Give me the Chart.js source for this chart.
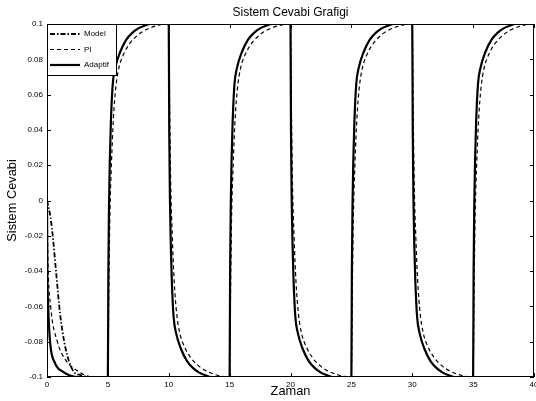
<!DOCTYPE html>
<html>
<head>
<meta charset="utf-8">
<script src="https://cdn.jsdelivr.net/npm/chart.js@4.4.0/dist/chart.umd.min.js"></script>
<style>
html, body { margin: 0; padding: 0; background: #fff; }
#wrap { width: 536px; height: 401px; }
</style>
</head>
<body>
<div id="wrap"><canvas id="c" width="536" height="401"></canvas></div>
<script>
// values
const xTicks = [0, 5, 10, 15, 20, 25, 30, 35, 40];
const yTicks = [-0.1, -0.08, -0.06, -0.04, -0.02, 0, 0.02, 0.04, 0.06, 0.08, 0.1];

// first segment (t = 0..5), each curve decays from 0 to -0.1
const modelT = [0, 0.3, 0.5, 0.74, 1.07, 1.5, 2.1, 2.8, 3.5, 5];
const modelY = [0, -0.01, -0.022, -0.04, -0.064, -0.083, -0.096, -0.099, -0.1, -0.1];
const piStartT = [0, 0.08, 0.3, 0.85, 1.5, 2.6, 3.8, 5];
const piStartY = [0, -0.035, -0.06, -0.08, -0.09, -0.097, -0.1, -0.1];
const adaptifStartT = [0, 0.03, 0.1, 0.25, 0.65, 1.3, 2.5, 5];
const adaptifStartY = [0, -0.04, -0.06, -0.08, -0.092, -0.097, -0.1, -0.1];

// square wave edges (+1 rise, -1 fall) and the step response read at one edge
const edgeTimes = [5, 10, 15, 20, 25, 30, 35];
const edgeDir = [1, -1, 1, -1, 1, -1, 1];
const adaptifOffsets = [0, 0.04, 0.1, 0.16, 0.25, 0.4, 0.6, 1.0, 1.5, 2.0, 2.5, 3.0, 3.5];
const adaptifStep = [-0.1, -0.04, 0.0, 0.023, 0.045, 0.066, 0.075, 0.084, 0.091, 0.095, 0.0975, 0.099, 0.1];
const piOffsets = [0, 0.08, 0.16, 0.3, 0.45, 0.65, 0.9, 1.3, 1.8, 2.5, 3.2, 4.0, 4.8];
const piStep = [-0.1, -0.05, -0.01, 0.022, 0.046, 0.064, 0.075, 0.083, 0.089, 0.094, 0.097, 0.099, 0.1];
const endT = 40;

function buildSeries(startT, startY, offsets, step) {
    let pts = startT.map((t, i) => ({ x: t, y: startY[i] }));
    pts.pop();
    edgeTimes.forEach((e, k) => {
        let s = edgeDir[k];
        offsets.forEach((o, i) => pts.push({ x: e + o, y: s * step[i] }));
    });
    pts.push({ x: endT, y: edgeDir[edgeDir.length - 1] * 0.1 });
    return pts;
}

const modelData = modelT.map((t, i) => ({ x: t, y: modelY[i] }));
const piData = buildSeries(piStartT, piStartY, piOffsets, piStep);
const adaptifData = buildSeries(adaptifStartT, adaptifStartY, adaptifOffsets, adaptifStep);

const legendItems = [
    { label: 'Model', dash: [5, 2, 1.5, 2], width: 1.8 },
    { label: 'PI', dash: [4, 3], width: 1.2 },
    { label: 'Adaptif', dash: [], width: 2.2 }
];

const fontName = '"Liberation Sans", Arial, Helvetica, sans-serif';

// matlab style box, inward ticks, title and legend
const matlabPlugin = {
    id: 'matlabBox',
    afterDatasetsDraw(chart) {
        const ctx = chart.ctx;
        const a = chart.chartArea;
        const xs = chart.scales.x, ys = chart.scales.y;
        ctx.save();
        ctx.strokeStyle = '#000';
        ctx.lineWidth = 1;
        ctx.setLineDash([]);
        ctx.strokeRect(a.left + 0.5, a.top + 0.5, a.right - a.left - 1, a.bottom - a.top - 1);
        const tl = 4;
        ctx.beginPath();
        xTicks.forEach(v => {
            let px = Math.round(xs.getPixelForValue(v)) + 0.5;
            ctx.moveTo(px, a.bottom); ctx.lineTo(px, a.bottom - tl);
            ctx.moveTo(px, a.top); ctx.lineTo(px, a.top + tl);
        });
        yTicks.forEach(v => {
            let py = Math.round(ys.getPixelForValue(v)) + 0.5;
            ctx.moveTo(a.left, py); ctx.lineTo(a.left + tl, py);
            ctx.moveTo(a.right, py); ctx.lineTo(a.right - tl, py);
        });
        ctx.stroke();

        // title
        ctx.fillStyle = '#000';
        ctx.font = '12px ' + fontName;
        ctx.textAlign = 'center';
        ctx.textBaseline = 'middle';
        ctx.fillText('Sistem Cevabi Grafigi', (a.left + a.right) / 2, 13);

        // legend
        const bx = a.left, by = a.top, bw = 69, bh = 51;
        ctx.fillStyle = '#fff';
        ctx.fillRect(bx, by, bw, bh);
        ctx.strokeRect(bx + 0.5, by + 0.5, bw, bh);
        ctx.font = '8px ' + fontName;
        ctx.textAlign = 'left';
        legendItems.forEach((it, i) => {
            let y = by + 10 + i * 15.5;
            ctx.beginPath();
            ctx.lineWidth = it.width;
            ctx.setLineDash(it.dash);
            ctx.moveTo(bx + 3, y); ctx.lineTo(bx + 33, y);
            ctx.stroke();
            ctx.fillStyle = '#000';
            ctx.fillText(it.label, bx + 37, y);
        });
        ctx.restore();
    }
};

function lineSet(label, data, dash, width, order) {
    return {
        label: label,
        data: data,
        borderColor: '#000',
        borderWidth: width,
        borderDash: dash,
        pointRadius: 0,
        fill: false,
        tension: 0,
        cubicInterpolationMode: 'monotone',
        order: order
    };
}

const chart = new Chart(document.getElementById('c'), {
    type: 'line',
    data: {
        datasets: [
            lineSet('Model', modelData, legendItems[0].dash, legendItems[0].width, 2),
            lineSet('PI', piData, legendItems[1].dash, legendItems[1].width, 1),
            lineSet('Adaptif', adaptifData, legendItems[2].dash, legendItems[2].width, 0)
        ]
    },
    options: {
        responsive: false,
        devicePixelRatio: 1,
        animation: false,
        layout: { padding: { left: 0, right: 2, top: 24, bottom: 0 } },
        plugins: {
            legend: { display: false },
            title: { display: false },
            tooltip: { enabled: false }
        },
        scales: {
            x: {
                type: 'linear',
                min: 0,
                max: 40,
                afterBuildTicks: s => { s.ticks = xTicks.map(v => ({ value: v })); },
                ticks: { color: '#000', font: { size: 8, family: fontName }, padding: 3, maxRotation: 0 },
                grid: { display: false, drawTicks: false },
                border: { display: false },
                title: { display: true, text: 'Zaman', color: '#000', font: { size: 12.8, family: fontName }, padding: { top: 0, bottom: 2 } },
                afterFit: s => { s.height = 24; s.paddingRight = 0; s.paddingLeft = 0; }
            },
            y: {
                type: 'linear',
                min: -0.1,
                max: 0.1,
                afterBuildTicks: s => { s.ticks = yTicks.map(v => ({ value: v })); },
                ticks: {
                    color: '#000',
                    font: { size: 8, family: fontName },
                    padding: 4,
                    callback: v => (+v.toFixed(2)).toString()
                },
                grid: { display: false, drawTicks: false },
                border: { display: false },
                title: { display: true, text: 'Sistem Cevabi', color: '#000', font: { size: 12.8, family: fontName }, padding: { top: 5, bottom: 0 } },
                afterFit: s => { s.width = 47; s.paddingTop = 0; s.paddingBottom = 0; }
            }
        }
    },
    plugins: [matlabPlugin]
});
</script>
</body>
</html>
